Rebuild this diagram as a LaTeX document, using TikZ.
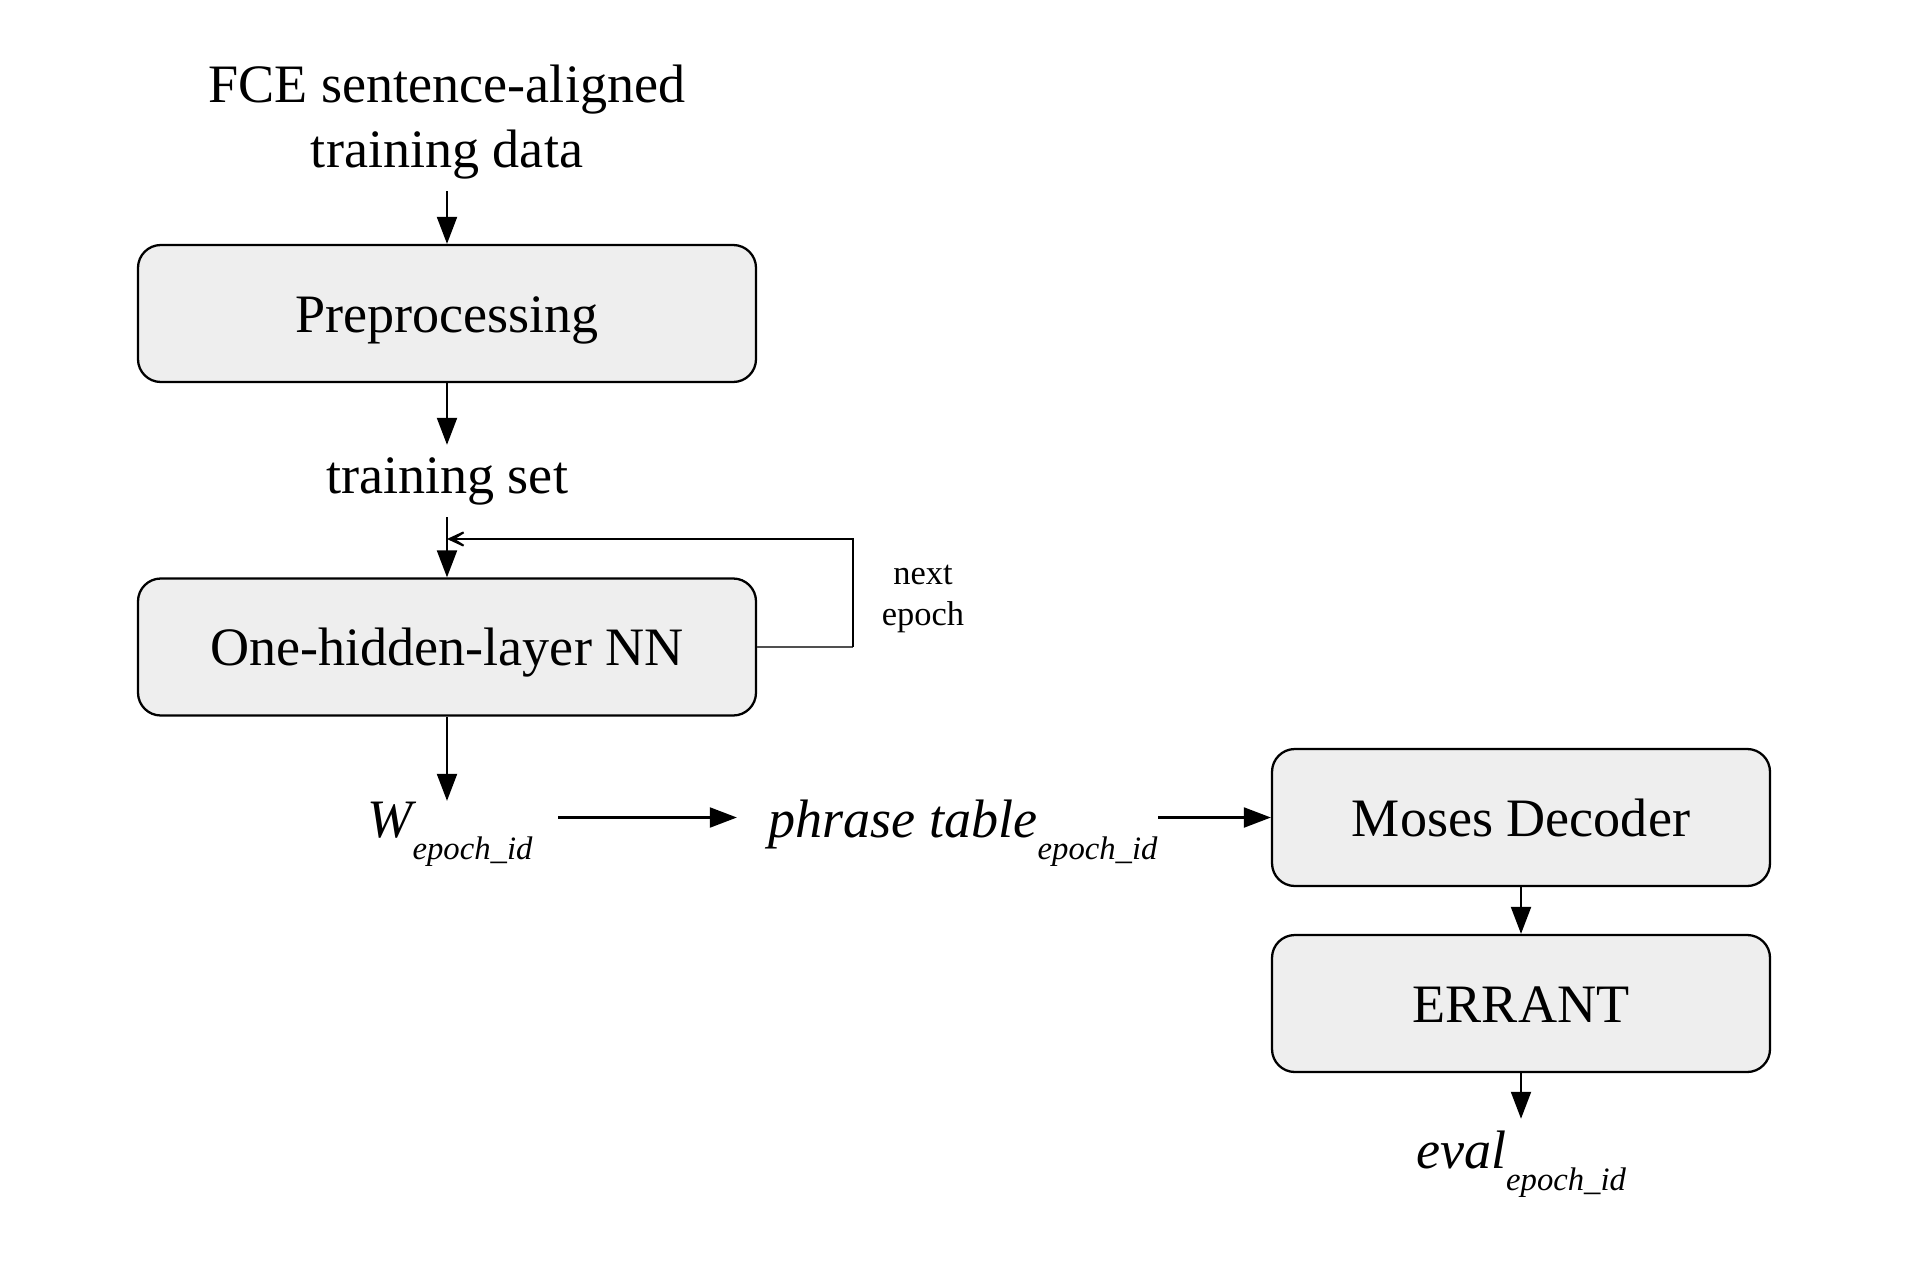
\documentclass[tikz,border=0pt]{standalone}
\usepackage{fontspec}
\setmainfont{Liberation Serif}
\usetikzlibrary{arrows.meta,positioning,calc}
\definecolor{BoxGray}{HTML}{EEEEEE}
\definecolor{LoopGray}{HTML}{505050}
\newcommand{\epochid}{\raisebox{-6.5pt}{\fontsize{9.3}{11}\selectfont\itshape epoch\_id}}

\begin{document}
\begin{tikzpicture}[
  box/.style={rounded corners=6.5pt,draw=black,fill=BoxGray,line width=0.65pt,minimum height=1.37cm,text height=0.37cm,text depth=0pt,align=center,font=\fontsize{15.4}{18.4}\selectfont},
  txt/.style={align=center,font=\fontsize{15.4}{18.4}\selectfont},
  var/.style={anchor=base,inner xsep=0pt,inner ysep=0pt,font=\fontsize{15.4}{18.4}\selectfont\itshape},
  small/.style={align=center,font=\fontsize{9.8}{11.6}\selectfont},
  arrow/.style={-{Triangle[length=2.7mm,width=2mm]},line width=0.6pt},
  back/.style={-{Stealth[length=3mm,width=2.8mm,inset=2.2mm]},line width=0.7pt}
]
\useasboundingbox (0,0) rectangle (19.14,-12.76);
\node[txt] (data) at (4.47,-1.22) {FCE sentence-aligned\\training data};
\node[box,minimum width=6.18cm] (prep) at (4.47,-3.135) {Preprocessing};
\node[txt] (trainset) at (4.47,-4.81) {training set};
\node[box,minimum width=6.18cm] (nn) at (4.47,-6.47) {One-hidden-layer NN};
\node[small] (next) at (9.23,-5.99) {next\\epoch};
\node[var] (weights) at (4.50,-8.37) {W\epochid};
\node[var] (phrase) at (9.63,-8.37) {phrase table\epochid};
\node[box,minimum width=4.98cm] (moses) at (15.21,-8.175) {Moses Decoder};
\node[box,minimum width=4.98cm] (errant) at (15.21,-10.035) {ERRANT};
\node[var] (eval) at (15.21,-11.68) {eval\epochid};

% feedback loop
\coordinate (turn) at (8.53,-6.47);
\coordinate (join) at (4.47,-5.39);

\draw[arrow] (data) -- (prep);
\draw[arrow] (prep) -- (trainset);
\draw[arrow] (trainset) -- (nn);
\draw[LoopGray,line width=0.6pt] (nn.east) -- (turn);
\draw[back] (turn) |- (join);
\draw[arrow] (nn.south) -- (nn.south |- weights.north);
\draw[arrow,shorten <=2.5mm,shorten >=3.1mm] (weights.east |- moses.west) -- (phrase.west |- moses.west);
\draw[arrow] (phrase.east |- moses.west) -- (moses.west);
\draw[arrow] (moses) -- (errant);
\draw[arrow,shorten >=1.1mm] (errant.south) -- (eval.north);
\end{tikzpicture}
\end{document}
